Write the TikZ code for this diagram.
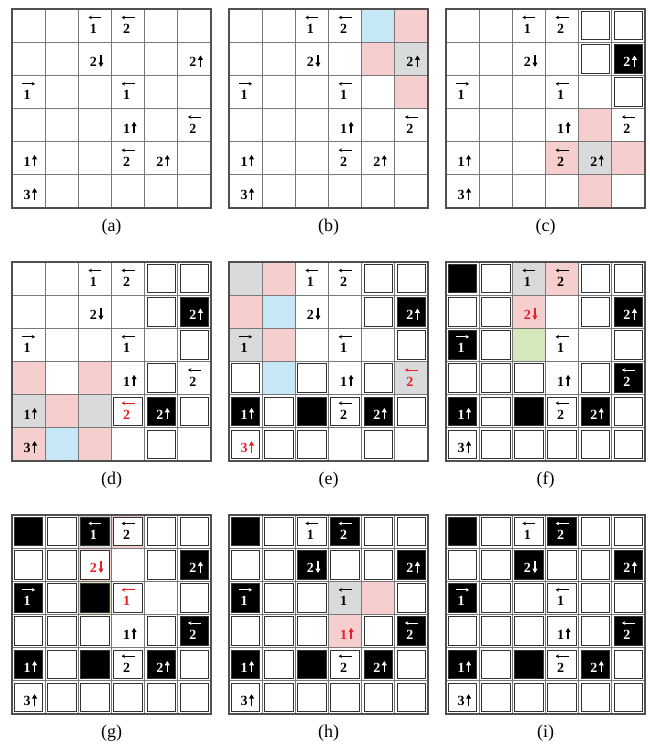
\documentclass[tikz,border=0pt]{standalone}
\usepackage{fontspec}
\setmainfont{Liberation Serif}
\usetikzlibrary{arrows.meta}
\definecolor{pk}{RGB}{247,206,206}
\definecolor{bl}{RGB}{198,231,246}
\definecolor{gy}{RGB}{216,218,220}
\definecolor{gn}{RGB}{213,232,188}
\definecolor{rd}{RGB}{232,30,36}
\newcommand\cellsz{33.17}
\newcommand\insz{2.3}
\newcommand\gname{a}
\tikzset{
  gl/.style={draw={rgb,255:red,120;green,120;blue,120}, line width=0.9pt},
  gb/.style={draw={rgb,255:red,80;green,80;blue,80}, line width=1.2pt},
  frm/.style={draw={rgb,255:red,50;green,50;blue,50}, line width=0.8pt},
  clue/.style={font=\fontsize{14}{15}\selectfont\bfseries, inner sep=0pt, anchor=base},
  harrow/.style={line width=0.8pt, -{Stealth[length=3.4pt,width=3.6pt]}},
  varrow/.style={line width=1.3pt, -{Triangle[length=4.4pt,width=4.8pt]}},
  lab/.style={font=\fontsize{18}{20}\selectfont, inner sep=0pt}
}
\newcommand\pbg[3]{\fill[#3] ({#2*\cellsz},{#1*\cellsz}) rectangle ++(\cellsz,\cellsz);}
\newcommand\pfr[3]{\draw[frm,fill=#3] ({#2*\cellsz+\insz},{#1*\cellsz+\insz}) rectangle ++({\cellsz-2*\insz},{\cellsz-2*\insz});}
\newcommand\pfws[1]{\foreach \rowi/\coli in {#1}{\pfr{\rowi}{\coli}{white}}}
\newcommand\pfbs[1]{\foreach \rowi/\coli in {#1}{\pfr{\rowi}{\coli}{black}}}
\newcommand\pgrid{%
  \foreach \ii in {1,...,5}{%
    \draw[gl] ({\ii*\cellsz},0) -- ({\ii*\cellsz},{6*\cellsz});
    \draw[gl] (0,{\ii*\cellsz}) -- ({6*\cellsz},{\ii*\cellsz});}
  \draw[gb] (0,0) rectangle ({6*\cellsz},{6*\cellsz});}
% horizontal clue: row col digit L/R colour
\newcommand\pch[5]{%
  \node[clue,text=#5] (\gname-#1-#2) at ({(#2+0.5)*\cellsz-1.5},{#1*\cellsz+24.5}) {#3};
  \ifx L#4\relax
    \draw[harrow,#5] ({(#2+0.5)*\cellsz+6.5},{#1*\cellsz+8.5}) -- ++(-13,0);
  \else
    \draw[harrow,#5] ({(#2+0.5)*\cellsz-6.5},{#1*\cellsz+8.5}) -- ++(13,0);
  \fi}
% vertical clue: row col digit U/D colour
\newcommand\pcv[5]{%
  \node[clue,text=#5] (\gname-#1-#2) at ({(#2+0.5)*\cellsz-1.5},{#1*\cellsz+24.5}) {#3};
  \ifx U#4\relax
    \draw[varrow,#5] ({(#2+0.5)*\cellsz+6},{#1*\cellsz+24.8}) -- ++(0,-11.5);
  \else
    \draw[varrow,#5] ({(#2+0.5)*\cellsz+6},{#1*\cellsz+13.3}) -- ++(0,11.5);
  \fi}
\begin{document}
\begin{tikzpicture}[x=1pt,y=-1pt]
\useasboundingbox (0,0) rectangle (649,746);
\fill[white] (0,0) rectangle (649,746);
% ---------- (a)
\begin{scope}[shift={(12,9)}]\renewcommand\gname{a}
\pgrid
\pch{0}{2}{1}{L}{black}\pch{0}{3}{2}{L}{black}
\pcv{1}{2}{2}{D}{black}\pcv{1}{5}{2}{U}{black}
\pch{2}{0}{1}{R}{black}\pch{2}{3}{1}{L}{black}
\pcv{3}{3}{1}{U}{black}\pch{3}{5}{2}{L}{black}
\pcv{4}{0}{1}{U}{black}\pch{4}{3}{2}{L}{black}\pcv{4}{4}{2}{U}{black}
\pcv{5}{0}{3}{U}{black}
\end{scope}
\node[lab] (la) at (111.5,227) {(a)};
% ---------- (b)
\begin{scope}[shift={(229,9)}]\renewcommand\gname{b}
\pbg{0}{4}{bl}\pbg{0}{5}{pk}\pbg{1}{4}{pk}\pbg{1}{5}{gy}\pbg{2}{5}{pk}
\pgrid
\pch{0}{2}{1}{L}{black}\pch{0}{3}{2}{L}{black}
\pcv{1}{2}{2}{D}{black}\pcv{1}{5}{2}{U}{black}
\pch{2}{0}{1}{R}{black}\pch{2}{3}{1}{L}{black}
\pcv{3}{3}{1}{U}{black}\pch{3}{5}{2}{L}{black}
\pcv{4}{0}{1}{U}{black}\pch{4}{3}{2}{L}{black}\pcv{4}{4}{2}{U}{black}
\pcv{5}{0}{3}{U}{black}
\end{scope}
\node[lab] (lb) at (328.5,227) {(b)};
% ---------- (c)
\begin{scope}[shift={(446,9)}]\renewcommand\gname{c}
\pbg{3}{4}{pk}\pbg{4}{3}{pk}\pbg{4}{4}{gy}\pbg{4}{5}{pk}\pbg{5}{4}{pk}
\pgrid
\pfws{0/4,0/5,1/4,2/5}\pfbs{1/5}
\pch{0}{2}{1}{L}{black}\pch{0}{3}{2}{L}{black}
\pcv{1}{2}{2}{D}{black}\pcv{1}{5}{2}{U}{white}
\pch{2}{0}{1}{R}{black}\pch{2}{3}{1}{L}{black}
\pcv{3}{3}{1}{U}{black}\pch{3}{5}{2}{L}{black}
\pcv{4}{0}{1}{U}{black}\pch{4}{3}{2}{L}{black}\pcv{4}{4}{2}{U}{black}
\pcv{5}{0}{3}{U}{black}
\end{scope}
\node[lab] (lc) at (545.5,227) {(c)};
% ---------- (d)
\begin{scope}[shift={(12,262)}]\renewcommand\gname{d}
\pbg{3}{0}{pk}\pbg{3}{2}{pk}\pbg{4}{0}{gy}\pbg{4}{1}{pk}\pbg{4}{2}{gy}
\pbg{5}{0}{pk}\pbg{5}{1}{bl}\pbg{5}{2}{pk}
\pgrid
\pfws{0/4,0/5,1/4,2/5,3/4,4/3,4/5,5/4}\pfbs{1/5,4/4}
\pch{0}{2}{1}{L}{black}\pch{0}{3}{2}{L}{black}
\pcv{1}{2}{2}{D}{black}\pcv{1}{5}{2}{U}{white}
\pch{2}{0}{1}{R}{black}\pch{2}{3}{1}{L}{black}
\pcv{3}{3}{1}{U}{black}\pch{3}{5}{2}{L}{black}
\pcv{4}{0}{1}{U}{black}\pch{4}{3}{2}{L}{rd}\pcv{4}{4}{2}{U}{white}
\pcv{5}{0}{3}{U}{black}
\end{scope}
\node[lab] (ld) at (111.5,480) {(d)};
% ---------- (e)
\begin{scope}[shift={(229,262)}]\renewcommand\gname{e}
\pbg{0}{0}{gy}\pbg{0}{1}{pk}\pbg{1}{0}{pk}\pbg{1}{1}{bl}\pbg{2}{0}{gy}
\pbg{2}{1}{pk}\pbg{3}{1}{bl}\pbg{3}{5}{gy}
\pgrid
\pfws{0/4,0/5,1/4,2/5,3/0,3/2,3/4,4/1,4/3,4/5,5/0,5/1,5/2,5/4}
\pfbs{1/5,4/0,4/2,4/4}
\pch{0}{2}{1}{L}{black}\pch{0}{3}{2}{L}{black}
\pcv{1}{2}{2}{D}{black}\pcv{1}{5}{2}{U}{white}
\pch{2}{0}{1}{R}{black}\pch{2}{3}{1}{L}{black}
\pcv{3}{3}{1}{U}{black}\pch{3}{5}{2}{L}{rd}
\pcv{4}{0}{1}{U}{white}\pch{4}{3}{2}{L}{black}\pcv{4}{4}{2}{U}{white}
\pcv{5}{0}{3}{U}{rd}
\end{scope}
\node[lab] (le) at (328.5,480) {(e)};
% ---------- (f)
\begin{scope}[shift={(446,262)}]\renewcommand\gname{f}
\pbg{0}{2}{gy}\pbg{0}{3}{pk}\pbg{1}{2}{pk}\pbg{2}{2}{gn}
\pgrid
\pfws{0/1,0/4,0/5,1/0,1/1,1/4,2/1,2/5,3/0,3/1,3/2,3/4,4/1,4/3,4/5,5/0,5/1,5/2,5/3,5/4,5/5}
\pfbs{0/0,1/5,2/0,3/5,4/0,4/2,4/4}
\pch{0}{2}{1}{L}{black}\pch{0}{3}{2}{L}{black}
\pcv{1}{2}{2}{D}{rd}\pcv{1}{5}{2}{U}{white}
\pch{2}{0}{1}{R}{white}\pch{2}{3}{1}{L}{black}
\pcv{3}{3}{1}{U}{black}\pch{3}{5}{2}{L}{white}
\pcv{4}{0}{1}{U}{white}\pch{4}{3}{2}{L}{black}\pcv{4}{4}{2}{U}{white}
\pcv{5}{0}{3}{U}{black}
\end{scope}
\node[lab] (lf) at (545.5,480) {(f)};
% ---------- (g)
\begin{scope}[shift={(12,515)}]\renewcommand\gname{g}
\pbg{0}{2}{gy}\pbg{0}{3}{pk}\pbg{1}{2}{pk}\pbg{2}{2}{gn}
\pgrid
\pfws{0/1,0/3,0/4,0/5,1/0,1/1,1/2,1/4,2/1,2/3,2/5,3/0,3/1,3/2,3/4,4/1,4/3,4/5,5/0,5/1,5/2,5/3,5/4,5/5}
\pfbs{0/0,0/2,1/5,2/0,2/2,3/5,4/0,4/2,4/4}
\pch{0}{2}{1}{L}{white}\pch{0}{3}{2}{L}{black}
\pcv{1}{2}{2}{D}{rd}\pcv{1}{5}{2}{U}{white}
\pch{2}{0}{1}{R}{white}\pch{2}{3}{1}{L}{rd}
\pcv{3}{3}{1}{U}{black}\pch{3}{5}{2}{L}{white}
\pcv{4}{0}{1}{U}{white}\pch{4}{3}{2}{L}{black}\pcv{4}{4}{2}{U}{white}
\pcv{5}{0}{3}{U}{black}
\end{scope}
\node[lab] (lg) at (111.5,733) {(g)};
% ---------- (h)
\begin{scope}[shift={(229,515)}]\renewcommand\gname{h}
\pbg{2}{3}{gy}\pbg{2}{4}{pk}\pbg{3}{3}{pk}
\pgrid
\pfws{0/1,0/2,0/4,0/5,1/0,1/1,1/3,1/4,2/1,2/2,2/5,3/0,3/1,3/2,3/4,4/1,4/3,4/5,5/0,5/1,5/2,5/3,5/4,5/5}
\pfbs{0/0,0/3,1/2,1/5,2/0,3/5,4/0,4/2,4/4}
\pch{0}{2}{1}{L}{black}\pch{0}{3}{2}{L}{white}
\pcv{1}{2}{2}{D}{white}\pcv{1}{5}{2}{U}{white}
\pch{2}{0}{1}{R}{white}\pch{2}{3}{1}{L}{black}
\pcv{3}{3}{1}{U}{rd}\pch{3}{5}{2}{L}{white}
\pcv{4}{0}{1}{U}{white}\pch{4}{3}{2}{L}{black}\pcv{4}{4}{2}{U}{white}
\pcv{5}{0}{3}{U}{black}
\end{scope}
\node[lab] (lh) at (328.5,733) {(h)};
% ---------- (i)
\begin{scope}[shift={(446,515)}]\renewcommand\gname{i}
\pgrid
\pfws{0/1,0/2,0/4,0/5,1/0,1/1,1/3,1/4,2/1,2/2,2/3,2/4,2/5,3/0,3/1,3/2,3/3,3/4,4/1,4/3,4/5,5/0,5/1,5/2,5/3,5/4,5/5}
\pfbs{0/0,0/3,1/2,1/5,2/0,3/5,4/0,4/2,4/4}
\pch{0}{2}{1}{L}{black}\pch{0}{3}{2}{L}{white}
\pcv{1}{2}{2}{D}{white}\pcv{1}{5}{2}{U}{white}
\pch{2}{0}{1}{R}{white}\pch{2}{3}{1}{L}{black}
\pcv{3}{3}{1}{U}{black}\pch{3}{5}{2}{L}{white}
\pcv{4}{0}{1}{U}{white}\pch{4}{3}{2}{L}{black}\pcv{4}{4}{2}{U}{white}
\pcv{5}{0}{3}{U}{black}
\end{scope}
\node[lab] (li) at (545.5,733) {(i)};
\end{tikzpicture}
\end{document}
